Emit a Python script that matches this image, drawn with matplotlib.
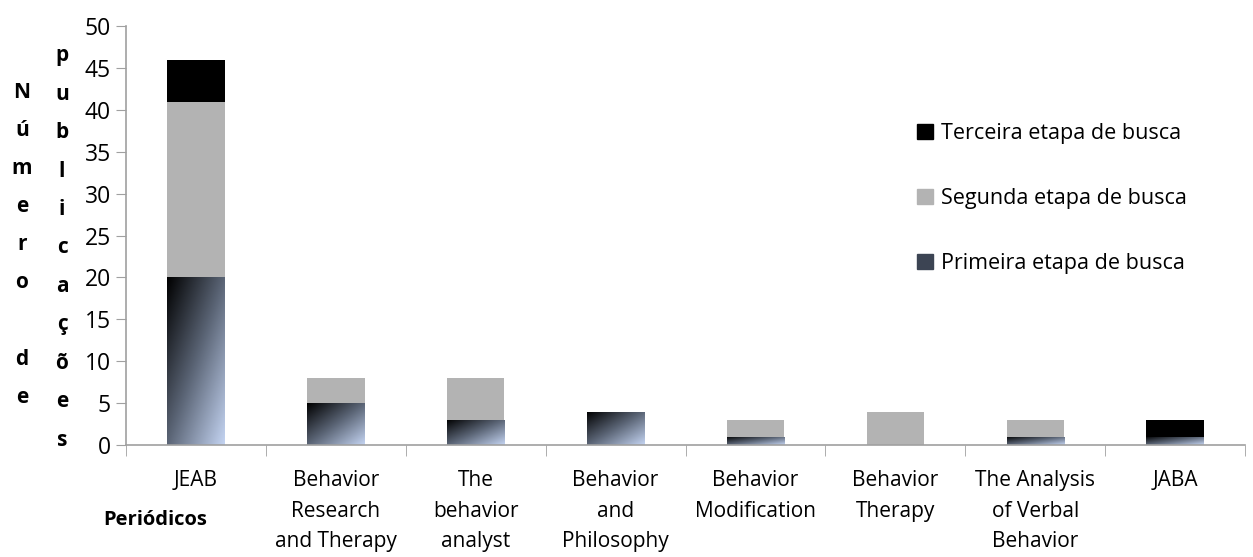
import numpy as np
import matplotlib
matplotlib.use("Agg")
import matplotlib.pyplot as plt
from matplotlib.colors import LinearSegmentedColormap
from matplotlib.patches import Patch

plt.rcParams['font.family'] = ['Open Sans', 'DejaVu Sans']

# dados
periodicos = ['JEAB', 'Behavior\nResearch\nand Therapy', 'The\nbehavior\nanalyst',
              'Behavior\nand\nPhilosophy', 'Behavior\nModification', 'Behavior\nTherapy',
              'The Analysis\nof Verbal\nBehavior', 'JABA']
primeira = [20, 5, 3, 4, 1, 0, 1, 1]
segunda = [21, 3, 5, 0, 2, 4, 2, 0]
terceira = [5, 0, 0, 0, 0, 0, 0, 2]
yticks = list(range(0, 51, 5))

fig = plt.figure(figsize=(12.53, 5.57), dpi=100)
ax = fig.add_axes([0.1006, 0.201, 0.893, 0.752])

x = np.arange(len(periodicos))
w = 0.41
prim = np.array(primeira)
seg = np.array(segunda)
ter = np.array(terceira)

cmap = LinearSegmentedColormap.from_list('grad', ['#000000', '#5b6576', '#c4d4f2'])
grad = np.add.outer(np.linspace(0, 1, 100), np.linspace(0, 1, 100)) / 2.0

bars1 = ax.bar(x, prim, w, color='none', edgecolor='none')
for b in bars1:
    if b.get_height() <= 0:
        continue
    x0, y0 = b.get_x(), b.get_y()
    im = ax.imshow(grad, cmap=cmap, aspect='auto', origin='upper',
                   extent=(x0, x0 + b.get_width(), y0, y0 + b.get_height()), zorder=2)
    im.set_clip_path(b)
ax.bar(x, seg, w, bottom=prim, color='#b3b3b3', edgecolor='none', zorder=2)
ax.bar(x, ter, w, bottom=prim + seg, color='#000000', edgecolor='none', zorder=2)

ax.set_xlim(-0.5, len(periodicos) - 0.5)
ax.set_ylim(0, 50)
ax.set_yticks(yticks)
ax.tick_params(axis='y', labelsize=16.5, length=7, color='#a0a0a0', pad=4)
ax.set_xticks(x)
ax.set_xticklabels(periodicos, fontsize=15, linespacing=1.6)
ax.tick_params(axis='x', which='major', length=0, pad=18)
ax.set_xticks(np.arange(-0.5, len(periodicos)), minor=True)
ax.tick_params(axis='x', which='minor', length=8, color='#a0a0a0')
for s in ['top', 'right']:
    ax.spines[s].set_visible(False)
for s in ['left', 'bottom']:
    ax.spines[s].set_color('#a0a0a0')
    ax.spines[s].set_linewidth(1.2)

handles = [Patch(color='#000000', label='Terceira etapa de busca'),
           Patch(color='#b3b3b3', label='Segunda etapa de busca'),
           Patch(color='#3c4453', label='Primeira etapa de busca')]
ax.legend(handles=handles, loc='upper left', bbox_to_anchor=(0.69, 0.815),
          frameon=False, fontsize=15.5, labelspacing=2.05,
          handlelength=0.7, handleheight=0.7, handletextpad=0.4)

# rótulo do eixo y em letras empilhadas
col1 = 'Número de'
col2 = 'publicações'
for i, ch in enumerate(col1):
    if ch != ' ':
        fig.text(22 / 1253, 1 - (92 + i * 38.2) / 557, ch, fontsize=15, fontweight='bold',
                 ha='center', va='center')
for i, ch in enumerate(col2):
    fig.text(62 / 1253, 1 - (56 + i * 38.4) / 557, ch, fontsize=15, fontweight='bold',
             ha='center', va='center')

fig.text(155 / 1253, 1 - 520 / 557, 'Periódicos', fontsize=14.5, fontweight='bold',
         ha='center', va='center')

fig.savefig('out.png', dpi=100)
